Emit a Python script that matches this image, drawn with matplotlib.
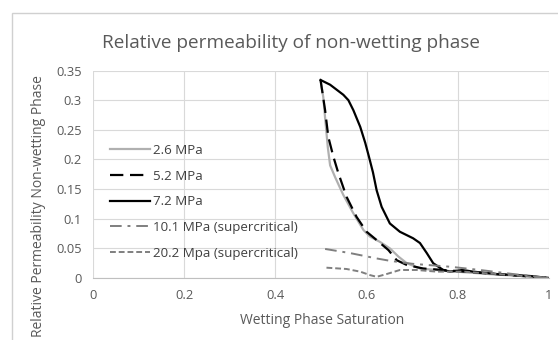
import matplotlib
matplotlib.use("Agg")
import matplotlib.pyplot as plt
from matplotlib.patches import Rectangle

plt.rcParams['font.family'] = ['Open Sans', 'DejaVu Sans']

# Data
sw_26 = [0.499, 0.505, 0.509, 0.515, 0.52, 0.531, 0.549, 0.571, 0.593, 0.607, 0.629, 0.651, 0.67, 0.688, 0.717, 0.76, 0.81, 0.88, 0.95, 1.0]
kr_26 = [0.334, 0.305, 0.27, 0.22, 0.190, 0.170, 0.140, 0.109, 0.081, 0.070, 0.061, 0.050, 0.036, 0.025, 0.016, 0.013, 0.010, 0.006, 0.003, 0.0]

sw_52 = [0.499, 0.509, 0.516, 0.527, 0.538, 0.556, 0.578, 0.60, 0.622, 0.648, 0.666, 0.688, 0.724, 0.768, 0.81, 0.86, 0.93, 1.0]
kr_52 = [0.334, 0.283, 0.238, 0.205, 0.177, 0.137, 0.103, 0.078, 0.064, 0.047, 0.030, 0.022, 0.016, 0.0135, 0.011, 0.008, 0.004, 0.0]

sw_72 = [0.499, 0.52, 0.549, 0.56, 0.571, 0.586, 0.597, 0.605, 0.614, 0.622, 0.633, 0.651, 0.673, 0.702, 0.717, 0.732, 0.746, 0.768, 0.783, 0.81, 0.834, 0.885, 0.958, 1.0]
kr_72 = [0.334, 0.326, 0.309, 0.300, 0.283, 0.255, 0.228, 0.205, 0.178, 0.148, 0.120, 0.092, 0.078, 0.067, 0.059, 0.042, 0.025, 0.0135, 0.0107, 0.0135, 0.0107, 0.0067, 0.0034, 0.0]

sw_101 = [0.509, 0.564, 0.622, 0.651, 0.70, 0.75, 0.783, 0.849, 0.921, 1.0]
kr_101 = [0.049, 0.042, 0.033, 0.029, 0.024, 0.021, 0.019, 0.0135, 0.0067, 0.0]

sw_202 = [0.512, 0.556, 0.586, 0.607, 0.622, 0.644, 0.673, 0.71, 0.754, 0.812, 0.885, 1.0]
kr_202 = [0.0174, 0.0152, 0.0107, 0.005, 0.002, 0.0067, 0.0135, 0.0135, 0.0107, 0.0107, 0.0067, 0.0]

labels = ['2.6 MPa', '5.2 MPa', '7.2 MPa', '10.1 MPa (supercritical)', '20.2 Mpa (supercritical)']
xticks = [0, 0.2, 0.4, 0.6, 0.8, 1]
xticklabels = ['0', '0.2', '0.4', '0.6', '0.8', '1']
yticks = [0, 0.05, 0.1, 0.15, 0.2, 0.25, 0.3, 0.35]
yticklabels = ['0', '0.05', '0.1', '0.15', '0.2', '0.25', '0.3', '0.35']

txt = '#595959'
W, H = 558, 340
fig = plt.figure(figsize=(5.58, 3.4), dpi=100)
fig.patches.append(Rectangle((12/W, -0.1), 2, (H-13)/H + 0.1, transform=fig.transFigure,
                             fill=False, edgecolor='#d0d0d0', linewidth=1.0))
ax = fig.add_axes([93/W, 62/H, (549-93)/W, (278-70.5)/H])

ax.plot(sw_26, kr_26, color='#b0b0b0', lw=1.6, label=labels[0])
ax.plot(sw_52, kr_52, color='black', lw=1.6, dashes=(6, 3), label=labels[1])
ax.plot(sw_72, kr_72, color='black', lw=1.6, label=labels[2])
ax.plot(sw_101, kr_101, color='#7f7f7f', lw=1.4, dashes=(6, 3, 1.5, 3), label=labels[3])
ax.plot(sw_202, kr_202, color='#7f7f7f', lw=1.4, dashes=(3, 1.5), label=labels[4])

ax.set_xlim(0, 1)
ax.set_ylim(0, 0.35)
ax.set_xticks(xticks)
ax.set_xticklabels(xticklabels)
ax.set_yticks(yticks)
ax.set_yticklabels(yticklabels)
ax.grid(True, color='#d9d9d9', lw=0.8)
ax.set_axisbelow(True)
for s in ['top', 'right', 'left']:
    ax.spines[s].set_visible(False)
ax.spines['bottom'].set_color('#bfbfbf')
ax.tick_params(length=0, colors=txt, labelsize=9.3, pad=8)

fig.text(322/W, 1 - 321/H, 'Wetting Phase Saturation', color=txt, fontsize=10,
         ha='center', va='center')
fig.text(39/W, 1 - 206/H, 'Relative Permeability Non-wetting Phase', color=txt, fontsize=10,
         ha='center', va='center', rotation=90)
fig.text(291/W, 1 - 43/H, 'Relative permeability of non-wetting phase', color=txt, fontsize=13.7,
         ha='center', va='center')

leg = ax.legend(loc='upper left', bbox_to_anchor=(0.017, 0.69), frameon=False, fontsize=9.6,
                handlelength=3.0, handletextpad=0.2, labelspacing=0.95, borderaxespad=0.3)
for t in leg.get_texts():
    t.set_color('#404040')

fig.savefig('out.png', dpi=100)
